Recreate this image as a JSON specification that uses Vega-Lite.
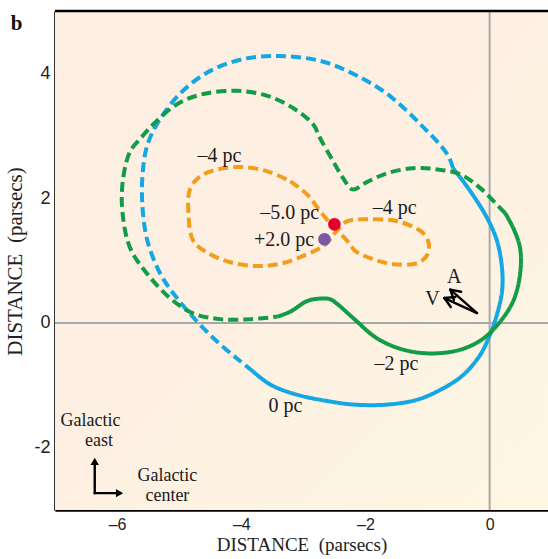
{
  "$schema": "https://vega.github.io/schema/vega-lite/v6.json",
  "width": 493,
  "height": 499,
  "autosize": {"type": "none"},
  "padding": {"left": 55, "top": 11, "right": 0, "bottom": 49},
  "background": "#ffffff",
  "config": {"view": {"stroke": null}, "font": "Liberation Serif"},
  "datasets": {
    "curves": [
      {"s":"bs","o":1,"x":-3.81,"y":-0.78},{"s":"bs","o":2,"x":-3.53,"y":-0.99},{"s":"bs","o":3,"x":-3.11,"y":-1.15},{"s":"bs","o":4,"x":-2.57,"y":-1.26},{"s":"bs","o":5,"x":-2.19,"y":-1.31},{"s":"bs","o":6,"x":-1.65,"y":-1.31},{"s":"bs","o":7,"x":-1.16,"y":-1.23},{"s":"bs","o":8,"x":-0.75,"y":-1.05},{"s":"bs","o":9,"x":-0.42,"y":-0.83},{"s":"bs","o":10,"x":-0.15,"y":-0.51},{"s":"bs","o":11,"x":0.01,"y":-0.18},{"s":"bs","o":12,"x":0.12,"y":0.14},{"s":"bs","o":13,"x":0.20,"y":0.51},{"s":"bs","o":14,"x":0.20,"y":0.87},{"s":"bs","o":15,"x":0.12,"y":1.31},{"s":"bs","o":16,"x":-0.04,"y":1.68},{"s":"bs","o":17,"x":-0.31,"y":2.11},{"s":"bs","o":18,"x":-0.59,"y":2.48},
      {"s":"bd","o":1,"x":-0.59,"y":2.48},{"s":"bd","o":2,"x":-0.68,"y":2.70},{"s":"bd","o":3,"x":-1.11,"y":3.18},{"s":"bd","o":4,"x":-1.65,"y":3.67},{"s":"bd","o":5,"x":-2.19,"y":3.99},{"s":"bd","o":6,"x":-2.73,"y":4.20},{"s":"bd","o":7,"x":-3.39,"y":4.28},{"s":"bd","o":8,"x":-3.97,"y":4.23},{"s":"bd","o":9,"x":-4.50,"y":4.04},{"s":"bd","o":10,"x":-4.94,"y":3.72},{"s":"bd","o":11,"x":-5.30,"y":3.28},{"s":"bd","o":12,"x":-5.51,"y":2.86},{"s":"bd","o":13,"x":-5.59,"y":2.38},{"s":"bd","o":14,"x":-5.59,"y":1.84},{"s":"bd","o":15,"x":-5.51,"y":1.31},{"s":"bd","o":16,"x":-5.30,"y":0.78},{"s":"bd","o":17,"x":-5.03,"y":0.39},{"s":"bd","o":18,"x":-4.71,"y":0.02},{"s":"bd","o":19,"x":-4.39,"y":-0.30},{"s":"bd","o":20,"x":-4.07,"y":-0.57},{"s":"bd","o":21,"x":-3.81,"y":-0.78},
      {"s":"gs","o":1,"x":-3.42,"y":0.10},{"s":"gs","o":2,"x":-3.21,"y":0.18},{"s":"gs","o":3,"x":-2.94,"y":0.35},{"s":"gs","o":4,"x":-2.73,"y":0.39},{"s":"gs","o":5,"x":-2.57,"y":0.38},{"s":"gs","o":6,"x":-2.45,"y":0.30},{"s":"gs","o":7,"x":-2.19,"y":0.07},{"s":"gs","o":8,"x":-1.81,"y":-0.25},{"s":"gs","o":9,"x":-1.39,"y":-0.43},{"s":"gs","o":10,"x":-0.95,"y":-0.49},{"s":"gs","o":11,"x":-0.47,"y":-0.43},{"s":"gs","o":12,"x":-0.10,"y":-0.25},{"s":"gs","o":13,"x":0.17,"y":0.02},{"s":"gs","o":14,"x":0.38,"y":0.35},{"s":"gs","o":15,"x":0.49,"y":0.78},{"s":"gs","o":16,"x":0.49,"y":1.20},{"s":"gs","o":17,"x":0.38,"y":1.52},{"s":"gs","o":18,"x":0.25,"y":1.76},
      {"s":"gd","o":1,"x":0.25,"y":1.76},{"s":"gd","o":2,"x":0.17,"y":1.84},{"s":"gd","o":3,"x":-0.15,"y":2.16},{"s":"gd","o":4,"x":-0.47,"y":2.38},{"s":"gd","o":5,"x":-0.84,"y":2.46},{"s":"gd","o":6,"x":-1.23,"y":2.48},{"s":"gd","o":7,"x":-1.65,"y":2.40},{"s":"gd","o":8,"x":-1.97,"y":2.26},{"s":"gd","o":9,"x":-2.21,"y":2.14},{"s":"gd","o":10,"x":-2.36,"y":2.32},{"s":"gd","o":11,"x":-2.52,"y":2.59},{"s":"gd","o":12,"x":-2.73,"y":2.96},{"s":"gd","o":13,"x":-2.84,"y":3.18},{"s":"gd","o":14,"x":-3.16,"y":3.44},{"s":"gd","o":15,"x":-3.58,"y":3.64},{"s":"gd","o":16,"x":-4.07,"y":3.72},{"s":"gd","o":17,"x":-4.61,"y":3.67},{"s":"gd","o":18,"x":-5.03,"y":3.51},{"s":"gd","o":19,"x":-5.42,"y":3.18},{"s":"gd","o":20,"x":-5.62,"y":2.96},{"s":"gd","o":21,"x":-5.79,"y":2.75},{"s":"gd","o":22,"x":-5.91,"y":2.26},{"s":"gd","o":23,"x":-5.91,"y":1.74},{"s":"gd","o":24,"x":-5.79,"y":1.20},{"s":"gd","o":25,"x":-5.51,"y":0.78},{"s":"gd","o":26,"x":-5.14,"y":0.39},{"s":"gd","o":27,"x":-4.77,"y":0.15},{"s":"gd","o":28,"x":-4.34,"y":0.06},{"s":"gd","o":29,"x":-3.85,"y":0.06},{"s":"gd","o":30,"x":-3.42,"y":0.10},
      {"s":"or","o":1,"x":-3.21,"y":2.27},{"s":"or","o":2,"x":-2.94,"y":2.06},{"s":"or","o":3,"x":-2.73,"y":1.79},{"s":"or","o":4,"x":-2.57,"y":1.60},{"s":"or","o":5,"x":-2.44,"y":1.47},{"s":"or","o":6,"x":-2.29,"y":1.31},{"s":"or","o":7,"x":-2.16,"y":1.15},{"s":"or","o":8,"x":-1.87,"y":1.02},{"s":"or","o":9,"x":-1.55,"y":0.94},{"s":"or","o":10,"x":-1.16,"y":0.96},{"s":"or","o":11,"x":-1.00,"y":1.10},{"s":"or","o":12,"x":-0.99,"y":1.31},{"s":"or","o":13,"x":-1.11,"y":1.47},{"s":"or","o":14,"x":-1.49,"y":1.63},{"s":"or","o":15,"x":-1.92,"y":1.66},{"s":"or","o":16,"x":-2.29,"y":1.63},{"s":"or","o":17,"x":-2.44,"y":1.50},{"s":"or","o":18,"x":-2.57,"y":1.34},{"s":"or","o":19,"x":-2.68,"y":1.23},{"s":"or","o":20,"x":-2.94,"y":1.10},{"s":"or","o":21,"x":-3.32,"y":0.96},{"s":"or","o":22,"x":-3.70,"y":0.91},{"s":"or","o":23,"x":-4.13,"y":0.96},{"s":"or","o":24,"x":-4.50,"y":1.10},{"s":"or","o":25,"x":-4.77,"y":1.31},{"s":"or","o":26,"x":-4.85,"y":1.74},{"s":"or","o":27,"x":-4.82,"y":2.16},{"s":"or","o":28,"x":-4.61,"y":2.38},{"s":"or","o":29,"x":-4.07,"y":2.50},{"s":"or","o":30,"x":-3.58,"y":2.43},{"s":"or","o":31,"x":-3.21,"y":2.27}
    ],
    "dots": [
      {"name":"-5.0 pc","x":-2.50,"y":1.58},
      {"name":"+2.0 pc","x":-2.66,"y":1.34}
    ],
    "labels": [
      {"t":"–4 pc","x":-4.35,"y":2.58},
      {"t":"–4 pc","x":-1.53,"y":1.74},
      {"t":"–5.0 pc","x":-3.22,"y":1.67},
      {"t":"+2.0 pc","x":-3.31,"y":1.23},
      {"t":"–2 pc","x":-1.50,"y":-0.75},
      {"t":"0 pc","x":-3.29,"y":-1.43},
      {"t":"A","x":-0.57,"y":0.64},
      {"t":"V","x":-0.92,"y":0.28}
    ],
    "galactic": [
      {"t":"Galactic","x":-6.43,"y":-1.66},
      {"t":"east","x":-6.29,"y":-1.98},
      {"t":"Galactic","x":-5.19,"y":-2.53},
      {"t":"center","x":-5.19,"y":-2.85}
    ],
    "arrows": [
      {"x":-0.203,"y":0.157,"x2":-0.633,"y2":0.533},
      {"x":-0.633,"y":0.533,"x2":-0.576,"y2":0.366},
      {"x":-0.633,"y":0.533,"x2":-0.459,"y2":0.499},
      {"x":-0.203,"y":0.157,"x2":-0.729,"y2":0.398},
      {"x":-0.729,"y":0.398,"x2":-0.626,"y2":0.254},
      {"x":-0.729,"y":0.398,"x2":-0.552,"y2":0.414},
      {"x":-6.36,"y":-2.73,"x2":-6.36,"y2":-2.26},
      {"x":-6.36,"y":-2.73,"x2":-5.99,"y2":-2.73}
    ],
    "heads": [
      {"shape":"triangle-up","x":-6.36,"y":-2.22},
      {"shape":"triangle-right","x":-5.96,"y":-2.73}
    ],
    "panel": [{"t":"b","x":-7.62,"y":4.69}]
  },
  "layer": [
    {
      "data": {"values": [{}]},
      "mark": {"type": "rect", "color": {"gradient": "linear", "x1": 0, "y1": 0, "x2": 1, "y2": 1, "stops": [{"offset": 0, "color": "#fdeee2"}, {"offset": 0.45, "color": "#fdf0e3"}, {"offset": 1, "color": "#fef6e2"}]}},
      "encoding": {
        "x": {"datum": -7, "type": "quantitative", "scale": {"domain": [-7, 0.94], "nice": false, "zero": false},
          "axis": {"values": [-6, -4, -2, 0], "grid": false, "domainColor": "#000000", "domainWidth": 2.6, "tickColor": "#000000", "tickWidth": 2.4, "tickSize": -12, "labelPadding": 18, "labelFont": "Liberation Sans", "labelFontSize": 16, "labelColor": "#222222", "labelExpr": "datum.value < 0 ? '–' + abs(datum.value) : '' + datum.value", "title": "DISTANCE\u00a0\u00a0(parsecs)", "titleFont": "Liberation Serif", "titleFontSize": 19, "titleFontWeight": "normal", "titleColor": "#222222", "titlePadding": 3}},
        "x2": {"datum": 0.94},
        "y": {"datum": -3, "type": "quantitative", "scale": {"domain": [-3, 5], "nice": false, "zero": false},
          "axis": {"values": [-2, 0, 2, 4], "grid": false, "domainColor": "#000000", "domainWidth": 2.6, "tickColor": "#000000", "tickWidth": 2.4, "tickSize": -12, "labelPadding": 17, "labelFont": "Liberation Sans", "labelFontSize": 18, "labelColor": "#222222", "labelExpr": "datum.value < 0 ? '-' + abs(datum.value) : '' + datum.value", "title": "DISTANCE\u00a0\u00a0(parsecs)", "titleFont": "Liberation Serif", "titleFontSize": 21, "titleFontWeight": "normal", "titleColor": "#222222", "titleX": -30, "titleY": 250}},
        "y2": {"datum": 5}
      }
    },
    {
      "data": {"values": [{}]},
      "mark": {"type": "rule", "color": "#a8a8a8", "strokeWidth": 2},
      "encoding": {"x": {"datum": 0, "type": "quantitative"}}
    },
    {
      "data": {"values": [{}]},
      "mark": {"type": "rule", "color": "#a8a8a8", "strokeWidth": 2},
      "encoding": {"y": {"datum": 0, "type": "quantitative"}}
    },
    {
      "data": {"values": [{}]},
      "mark": {"type": "rule", "color": "#000000", "strokeWidth": 2.6},
      "encoding": {"y": {"datum": 5, "type": "quantitative"}}
    },
    {
      "data": {"name": "curves"},
      "mark": {"type": "line", "strokeWidth": 4, "interpolate": "catmull-rom", "strokeCap": "butt"},
      "encoding": {
        "x": {"field": "x", "type": "quantitative"},
        "y": {"field": "y", "type": "quantitative"},
        "order": {"field": "o", "type": "quantitative"},
        "detail": {"field": "s"},
        "color": {"field": "s", "type": "nominal", "legend": null, "scale": {"domain": ["bs", "bd", "gs", "gd", "or"], "range": ["#13a7e3", "#13a7e3", "#129c47", "#129c47", "#f29e1c"]}},
        "strokeDash": {"field": "s", "type": "nominal", "legend": null, "scale": {"domain": ["bs", "bd", "gs", "gd", "or"], "range": [[1, 0], [10, 5], [1, 0], [10, 5], [10, 5]]}}
      }
    },
    {
      "data": {"name": "dots"},
      "transform": [{"filter": "datum.name === '-5.0 pc'"}],
      "mark": {"type": "circle", "size": 160, "opacity": 1, "color": "#e2002b"},
      "encoding": {
        "x": {"field": "x", "type": "quantitative"},
        "y": {"field": "y", "type": "quantitative"}
      }
    },
    {
      "data": {"name": "dots"},
      "transform": [{"filter": "datum.name === '+2.0 pc'"}],
      "mark": {"type": "circle", "size": 160, "opacity": 1, "color": "#7b58a5"},
      "encoding": {
        "x": {"field": "x", "type": "quantitative"},
        "y": {"field": "y", "type": "quantitative"}
      }
    },
    {
      "data": {"name": "labels"},
      "mark": {"type": "text", "font": "Liberation Serif", "fontSize": 20, "color": "#1a1a1a", "align": "center", "baseline": "alphabetic"},
      "encoding": {
        "x": {"field": "x", "type": "quantitative"},
        "y": {"field": "y", "type": "quantitative"},
        "text": {"field": "t"}
      }
    },
    {
      "data": {"name": "galactic"},
      "mark": {"type": "text", "font": "Liberation Serif", "fontSize": 18, "color": "#1a1a1a", "align": "center", "baseline": "alphabetic"},
      "encoding": {
        "x": {"field": "x", "type": "quantitative"},
        "y": {"field": "y", "type": "quantitative"},
        "text": {"field": "t"}
      }
    },
    {
      "data": {"name": "arrows"},
      "mark": {"type": "rule", "color": "#000000", "strokeWidth": 2.4, "strokeCap": "round"},
      "encoding": {
        "x": {"field": "x", "type": "quantitative"},
        "y": {"field": "y", "type": "quantitative"},
        "x2": {"field": "x2"},
        "y2": {"field": "y2"}
      }
    },
    {
      "data": {"name": "heads"},
      "mark": {"type": "point", "filled": true, "size": 70, "color": "#000000", "opacity": 1},
      "encoding": {
        "x": {"field": "x", "type": "quantitative"},
        "y": {"field": "y", "type": "quantitative"},
        "shape": {"field": "shape", "type": "nominal", "legend": null, "scale": {"domain": ["triangle-up", "triangle-right"], "range": ["triangle-up", "triangle-right"]}}
      }
    },
    {
      "data": {"name": "panel"},
      "mark": {"type": "text", "font": "Liberation Serif", "fontSize": 21, "fontWeight": "bold", "color": "#111111", "align": "center", "baseline": "alphabetic"},
      "encoding": {
        "x": {"field": "x", "type": "quantitative"},
        "y": {"field": "y", "type": "quantitative"},
        "text": {"field": "t"}
      }
    }
  ]
}
